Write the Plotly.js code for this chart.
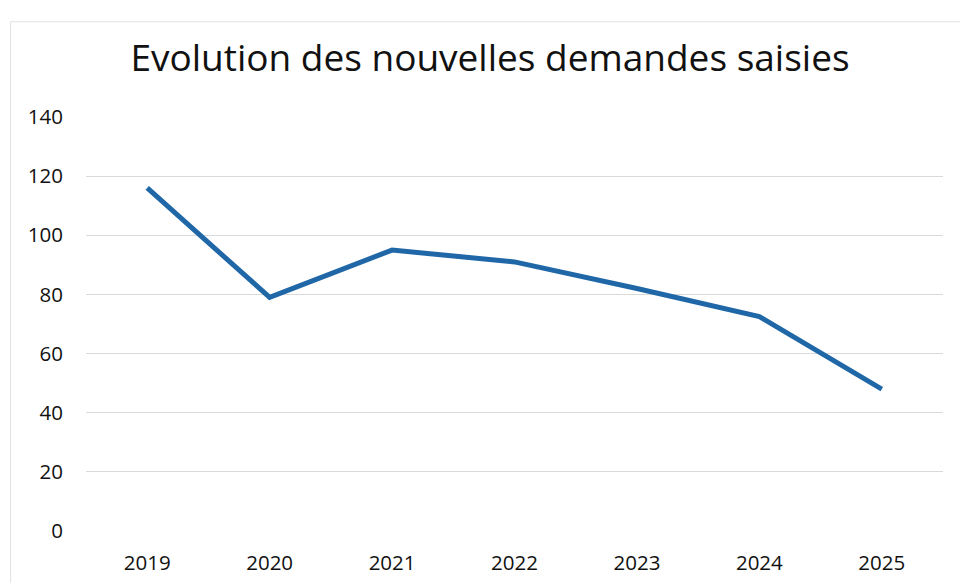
<!DOCTYPE html>
<html>
<head>
<meta charset="utf-8">
<script src="https://cdn.plot.ly/plotly-3.0.1.min.js"></script>
<style>html,body{margin:0;padding:0;background:#fff;}#chart{width:960px;height:583px;}</style>
</head>
<body>
<div id="chart"></div>
<script>
const years = ["2019", "2020", "2021", "2022", "2023", "2024", "2025"];
const demandes = [116, 79, 95, 91, 82, 72.5, 48];
const yTicks = [0, 20, 40, 60, 80, 100, 120, 140];
const titleText = "Evolution des nouvelles demandes saisies";

const FONT = "'Open Sans', Lato, sans-serif";

const trace = {
  x: years,
  y: demandes,
  type: "scatter",
  mode: "lines",
  line: { color: "#1f67a6", width: 5 },
  hoverinfo: "x+y"
};

const layout = {
  width: 960,
  height: 583,
  paper_bgcolor: "#ffffff",
  plot_bgcolor: "#ffffff",
  margin: { l: 86, r: 17, t: 117, b: 52 },
  title: {
    text: titleText,
    font: { family: FONT, size: 37, color: "#111111" },
    x: 0.5104, xanchor: "center",
    y: 0.9, yanchor: "middle"
  },
  showlegend: false,
  xaxis: {
    type: "category",
    range: [-0.5, 6.5],
    showgrid: false,
    zeroline: false,
    showline: false,
    ticks: "",
    tickfont: { family: FONT, size: 20.5, color: "#111111" },
    ticklabelstandoff: 17
  },
  yaxis: {
    range: [0, 140],
    tickvals: yTicks,
    ticktext: yTicks.map(String),
    showgrid: true,
    gridcolor: "#d9d9d9",
    gridwidth: 1,
    zeroline: false,
    showline: false,
    ticks: "",
    tickfont: { family: FONT, size: 20.5, color: "#111111" },
    ticklabelstandoff: 22
  },
  shapes: [
    { type: "line", xref: "paper", yref: "paper", x0: -0.088, x1: 1.02, y0: 1.23, y1: 1.23, line: { color: "#e2e2e2", width: 1 } },
    { type: "line", xref: "paper", yref: "paper", x0: -0.088, x1: -0.088, y0: -0.13, y1: 1.23, line: { color: "#e2e2e2", width: 1 } }
  ]
};

Plotly.newPlot("chart", [trace], layout, { displayModeBar: false, staticPlot: true });
</script>
</body>
</html>
